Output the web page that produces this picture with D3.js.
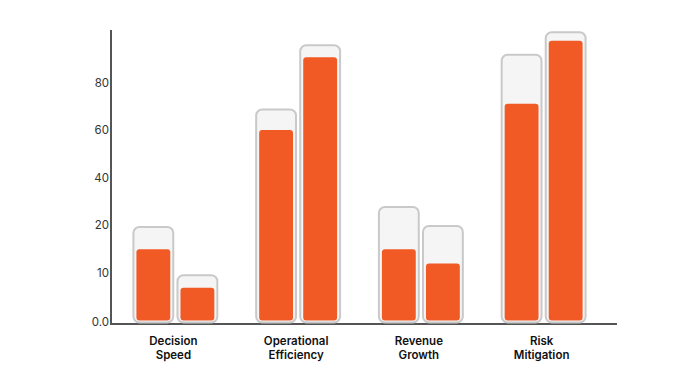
<!DOCTYPE html>
<html>
<head>
<meta charset="utf-8">
<script src="https://cdn.jsdelivr.net/npm/d3@7"></script>
<style>
    body { margin: 0; background: #fff; }
    svg { display: block; }
</style>
</head>
<body>
<div class="chart"></div>
<script>
    // Chart data
    var categories = [["Decision", "Speed"], ["Operational", "Efficiency"], ["Revenue", "Growth"], ["Risk", "Mitigation"]];
    var targetA = [19.8, 69, 28, 92];   // light bars, first of each pair
    var actualA = [15, 60, 15, 71];     // orange bars, first of each pair
    var targetB = [9.8, 96, 20, 101.5]; // light bars, second of each pair
    var actualB = [7, 90.5, 12, 97.5];  // orange bars, second of each pair
    var tickValues = [0, 10, 20, 40, 60, 80];

    var width = 695;
    var height = 375;

    var data = categories.map((c, i) => ({
        id: c.join(" "),
        label: c,
        bars: [
            { key: "a", target: targetA[i], actual: actualA[i] },
            { key: "b", target: targetB[i], actual: actualB[i] }
        ]
    }));

    const svg = d3.select("div.chart")
        .append("svg")
        .attr("width", width)
        .attr("height", height);

    // Outer band scale for the groups, inner for the pair
    var x = d3.scaleBand()
        .domain(data.map(d => d.id))
        .range([114, 605])
        .paddingInner(0.3)
        .paddingOuter(0.15);
    var xInner = d3.scaleBand()
        .domain(["a", "b"])
        .range([0, x.bandwidth()])
        .paddingInner(0.05);

    // The value axis is stretched below 20
    var y = d3.scaleLinear()
        .domain([0, 20, 102])
        .range([321.5, 225, 30]);

    // Axes
    svg.append("g")
        .attr("transform", "translate(111,0)")
        .call(d3.axisLeft(y).tickValues(tickValues).tickSize(0).tickPadding(2)
            .tickFormat(d => d === 0 ? "0.0" : d))
        .call(g => g.select(".domain").remove())
        .call(g => g.selectAll(".tick text")
            .attr("fill", "#333")
            .style("font-family", "Inter, sans-serif")
            .style("font-size", "11.5px"));

    svg.append("line")
        .attr("x1", 111).attr("x2", 111)
        .attr("y1", 30).attr("y2", 324)
        .attr("stroke", "#555")
        .attr("stroke-width", 2);
    svg.append("line")
        .attr("x1", 110).attr("x2", 617)
        .attr("y1", 324).attr("y2", 324)
        .attr("stroke", "#555")
        .attr("stroke-width", 2);

    // Bars
    var groups = svg.append("g")
        .selectAll("g")
        .data(data)
        .join("g")
        .attr("transform", d => `translate(${x(d.id)},0)`);

    groups.selectAll("rect.target")
        .data(d => d.bars)
        .join("rect")
        .attr("class", "target")
        .attr("x", d => xInner(d.key) + 1)
        .attr("width", xInner.bandwidth() - 2)
        .attr("y", d => y(d.target) + 1)
        .attr("height", d => y(0) - y(d.target))
        .attr("rx", 6)
        .attr("fill", "#f5f5f5")
        .attr("stroke", "#c9c9c9")
        .attr("stroke-width", 2);

    groups.selectAll("rect.actual")
        .data(d => d.bars)
        .join("rect")
        .attr("class", "actual")
        .attr("x", d => xInner(d.key) + 4)
        .attr("width", xInner.bandwidth() - 8)
        .attr("y", d => y(d.actual))
        .attr("height", d => y(0) - y(d.actual) - 1)
        .attr("rx", 3)
        .attr("fill", "#f15a24");

    // Category labels
    svg.append("g")
        .selectAll("text")
        .data(data)
        .join("text")
        .attr("x", d => x(d.id) + x.bandwidth() / 2 - 2)
        .attr("y", 345)
        .attr("text-anchor", "middle")
        .attr("fill", "#111")
        .style("font-family", "Inter, sans-serif")
        .style("font-size", "11.5px")
        .style("font-weight", "600")
        .selectAll("tspan")
        .data(d => d.label)
        .join("tspan")
        .attr("x", function () { return d3.select(this.parentNode).attr("x"); })
        .attr("dy", (d, i) => i === 0 ? 0 : 14)
        .text(d => d);
</script>
</body>
</html>
